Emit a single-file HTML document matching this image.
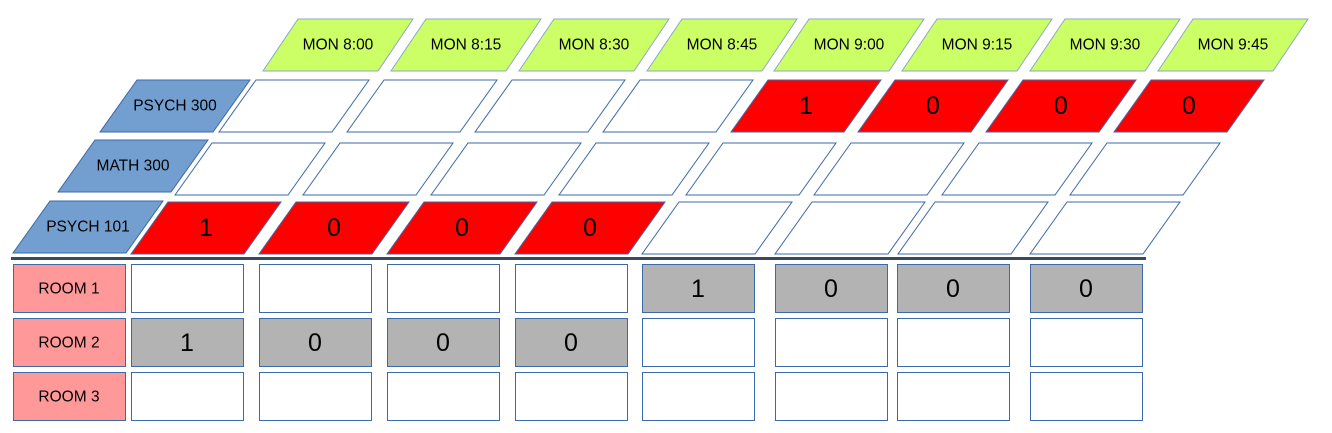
<!DOCTYPE html>
<html><head><meta charset="utf-8"><style>
html,body{margin:0;padding:0;background:#fff;width:1332px;height:433px;overflow:hidden}
svg{display:block}
text{font-family:"Liberation Sans",sans-serif;fill:#000;text-anchor:middle;dominant-baseline:central}
.l{font-size:15.5px}
.n{font-size:25px}
.h{fill:#ccff66;stroke:#8aa8c8;stroke-width:1}
.b{fill:#729fcf;stroke:#3c69a8;stroke-width:1}
.w{fill:#fff;stroke:#3c69a8;stroke-width:1}
.r{fill:#ff0000;stroke:#3c69a8;stroke-width:1}
.g{fill:#b3b3b3;stroke:#3c69a8;stroke-width:1}
.p{fill:#ff9999;stroke:#3c69a8;stroke-width:1}
</style></head><body>
<svg width="1332" height="433" viewBox="0 0 1332 433" xmlns="http://www.w3.org/2000/svg">
<g>
<polygon class="h" points="298,19 413,19 378,71 263,71"/><text class="l" x="338" y="45">MON 8:00</text>
<polygon class="h" points="426,19 541,19 506,71 391,71"/><text class="l" x="466" y="45">MON 8:15</text>
<polygon class="h" points="554,19 669,19 634,71 519,71"/><text class="l" x="594" y="45">MON 8:30</text>
<polygon class="h" points="682,19 797,19 762,71 647,71"/><text class="l" x="722" y="45">MON 8:45</text>
<polygon class="h" points="809,19 924,19 889,71 774,71"/><text class="l" x="849" y="45">MON 9:00</text>
<polygon class="h" points="937,19 1052,19 1017,71 902,71"/><text class="l" x="977" y="45">MON 9:15</text>
<polygon class="h" points="1065,19 1180,19 1145,71 1030,71"/><text class="l" x="1105" y="45">MON 9:30</text>
<polygon class="h" points="1193,19 1308,19 1273,71 1158,71"/><text class="l" x="1233" y="45">MON 9:45</text>
</g>
<g>
<polygon class="b" points="137,80 250,80 213,132 100,132"/><text class="l" x="175" y="106">PSYCH 300</text>
<polygon class="w" points="256,80 369,80 332,132 219,132"/>
<polygon class="w" points="384,80 497,80 460,132 347,132"/>
<polygon class="w" points="512,80 625,80 588,132 475,132"/>
<polygon class="w" points="640,80 753,80 716,132 603,132"/>
<polygon class="r" points="768,80 881,80 844,132 731,132"/><text class="n" x="806" y="106">1</text>
<polygon class="r" points="895,80 1008,80 971,132 858,132"/><text class="n" x="933" y="106">0</text>
<polygon class="r" points="1023,80 1136,80 1099,132 986,132"/><text class="n" x="1061" y="106">0</text>
<polygon class="r" points="1151,80 1264,80 1227,132 1114,132"/><text class="n" x="1189" y="106">0</text>
</g>
<g>
<polygon class="b" points="95,140 208,140 171,192 58,192"/><text class="l" x="133" y="166">MATH 300</text>
<polygon class="w" points="212,143 325,143 288,195 175,195"/>
<polygon class="w" points="340,143 453,143 416,195 303,195"/>
<polygon class="w" points="468,143 581,143 544,195 431,195"/>
<polygon class="w" points="596,143 709,143 672,195 559,195"/>
<polygon class="w" points="723,143 836,143 799,195 686,195"/>
<polygon class="w" points="851,143 964,143 927,195 814,195"/>
<polygon class="w" points="979,143 1092,143 1055,195 942,195"/>
<polygon class="w" points="1107,143 1220,143 1183,195 1070,195"/>
</g>
<g>
<polygon class="b" points="50,201 163,201 126,253 13,253"/><text class="l" x="88" y="227">PSYCH 101</text>
<polygon class="r" points="168,202 281,202 244,254 131,254"/><text class="n" x="206" y="228">1</text>
<polygon class="r" points="296,202 409,202 372,254 259,254"/><text class="n" x="334" y="228">0</text>
<polygon class="r" points="424,202 537,202 500,254 387,254"/><text class="n" x="462" y="228">0</text>
<polygon class="r" points="552,202 665,202 628,254 515,254"/><text class="n" x="590" y="228">0</text>
<polygon class="w" points="679,202 792,202 755,254 642,254"/>
<polygon class="w" points="812,202 925,202 888,254 775,254"/>
<polygon class="w" points="935,202 1048,202 1011,254 898,254"/>
<polygon class="w" points="1067,202 1180,202 1143,254 1030,254"/>
</g>
<rect x="11" y="257" width="1135" height="3" fill="#3b4a5a"/>
<g>
<rect class="p" x="13.5" y="264.5" width="112" height="48"/><text class="l" x="69" y="289">ROOM 1</text>
<rect class="p" x="13.5" y="318.5" width="112" height="48"/><text class="l" x="69" y="343">ROOM 2</text>
<rect class="p" x="13.5" y="372.5" width="112" height="48"/><text class="l" x="69" y="397">ROOM 3</text>

<rect class="w" x="131.5" y="264.5" width="112" height="48"/>
<rect class="w" x="259.5" y="264.5" width="112" height="48"/>
<rect class="w" x="387.5" y="264.5" width="112" height="48"/>
<rect class="w" x="515.5" y="264.5" width="112" height="48"/>
<rect class="g" x="642.5" y="264.5" width="112" height="48"/><text class="n" x="698" y="289">1</text>
<rect class="g" x="775.5" y="264.5" width="112" height="48"/><text class="n" x="831" y="289">0</text>
<rect class="g" x="897.5" y="264.5" width="112" height="48"/><text class="n" x="953" y="289">0</text>
<rect class="g" x="1030.5" y="264.5" width="112" height="48"/><text class="n" x="1086" y="289">0</text>

<rect class="g" x="131.5" y="318.5" width="112" height="48"/><text class="n" x="187" y="343">1</text>
<rect class="g" x="259.5" y="318.5" width="112" height="48"/><text class="n" x="315" y="343">0</text>
<rect class="g" x="387.5" y="318.5" width="112" height="48"/><text class="n" x="443" y="343">0</text>
<rect class="g" x="515.5" y="318.5" width="112" height="48"/><text class="n" x="571" y="343">0</text>
<rect class="w" x="642.5" y="318.5" width="112" height="48"/>
<rect class="w" x="775.5" y="318.5" width="112" height="48"/>
<rect class="w" x="897.5" y="318.5" width="112" height="48"/>
<rect class="w" x="1030.5" y="318.5" width="112" height="48"/>

<rect class="w" x="131.5" y="372.5" width="112" height="48"/>
<rect class="w" x="259.5" y="372.5" width="112" height="48"/>
<rect class="w" x="387.5" y="372.5" width="112" height="48"/>
<rect class="w" x="515.5" y="372.5" width="112" height="48"/>
<rect class="w" x="642.5" y="372.5" width="112" height="48"/>
<rect class="w" x="775.5" y="372.5" width="112" height="48"/>
<rect class="w" x="897.5" y="372.5" width="112" height="48"/>
<rect class="w" x="1030.5" y="372.5" width="112" height="48"/>
</g>
</svg>
</body></html>
